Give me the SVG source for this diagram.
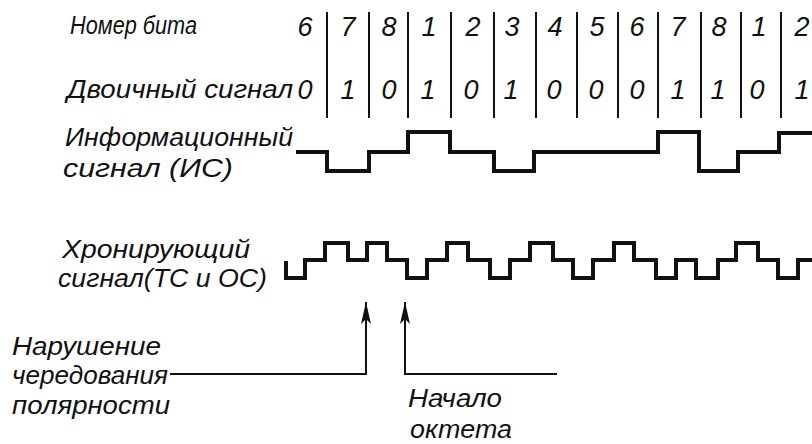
<svg xmlns="http://www.w3.org/2000/svg" width="812" height="444" viewBox="0 0 812 444">
<style>
text{font-family:"Liberation Sans","DejaVu Sans",sans-serif;font-style:italic;fill:#111}
.lbl{font-size:26px}
.dg{font-size:27px;text-anchor:middle}
.bar{stroke:#111;stroke-width:2;fill:none}
.wave{stroke:#111;stroke-width:4;fill:none;stroke-linejoin:miter;stroke-linecap:square}
.conn{stroke:#111;stroke-width:2;fill:none}
</style>
<defs>
<marker id="ah" viewBox="0 0 22 12" refX="22" refY="6" markerWidth="22" markerHeight="12" markerUnits="userSpaceOnUse" orient="auto">
<path d="M0,1 L22,6 L0,11 L5,6 Z" fill="#111"/>
</marker>
</defs>
<rect width="812" height="444" fill="#fff"/>
<g id="bit-numbers">
<text class="lbl" x="70" y="34" textLength="127" lengthAdjust="spacingAndGlyphs">Номер бита</text>
<text class="dg" x="305" y="36">6</text>
<text class="dg" x="348" y="36">7</text>
<text class="dg" x="389" y="36">8</text>
<text class="dg" x="429" y="36">1</text>
<text class="dg" x="473" y="36">2</text>
<text class="dg" x="512" y="36">3</text>
<text class="dg" x="555" y="36">4</text>
<text class="dg" x="597" y="36">5</text>
<text class="dg" x="637" y="36">6</text>
<text class="dg" x="678" y="36">7</text>
<text class="dg" x="719" y="36">8</text>
<text class="dg" x="759" y="36">1</text>
<text class="dg" x="802" y="36">2</text>
</g>
<g id="binary-signal">
<text class="lbl" x="67" y="98" textLength="226" lengthAdjust="spacingAndGlyphs">Двоичный сигнал</text>
<text class="dg" x="305" y="99">0</text>
<text class="dg" x="348" y="99">1</text>
<text class="dg" x="389" y="99">0</text>
<text class="dg" x="428" y="99">1</text>
<text class="dg" x="471" y="99">0</text>
<text class="dg" x="511" y="99">1</text>
<text class="dg" x="554" y="99">0</text>
<text class="dg" x="596" y="99">0</text>
<text class="dg" x="637" y="99">0</text>
<text class="dg" x="678" y="99">1</text>
<text class="dg" x="718" y="99">1</text>
<text class="dg" x="757" y="99">0</text>
<text class="dg" x="802" y="99">1</text>
</g>
<g id="bit-grid">
<path class="bar" d="M327,12V118M369,12V118M408,12V118M451,12V118M494,12V118M536,12V118M577,12V118M618,12V118M658,12V118M701,12V118M741,12V118M781,12V118"/>
</g>
<g id="info-signal">
<text class="lbl" x="65" y="146" textLength="228" lengthAdjust="spacingAndGlyphs">Информационный</text>
<text class="lbl" x="63" y="177" textLength="170" lengthAdjust="spacingAndGlyphs">сигнал (ИС)</text>
<path class="wave" d="M298,152H327V171H369V152H408V132H450V152H494V171H534V152H658V132H699V171H738V152H779V133H812"/>
</g>
<g id="timing-signal">
<text class="lbl" x="62" y="258" textLength="188" lengthAdjust="spacingAndGlyphs">Хронирующий</text>
<text class="lbl" x="58" y="287" textLength="209" lengthAdjust="spacingAndGlyphs">сигнал(ТС и ОС)</text>
<path class="wave" d="M286,263V278H305V260H325V243H348V260H367V243H387V260H407V278H427V260H447V243H468V260H490V278H510V260H530V243H553V260H573V278H593V260H614V243H634V260H656V278H676V260H696V278H718V260H736V243H758V260H778V278H798V260H812"/>
</g>
<g id="violation-label">
<text class="lbl" x="12" y="355" textLength="149" lengthAdjust="spacingAndGlyphs">Нарушение</text>
<text class="lbl" x="12" y="384" textLength="156" lengthAdjust="spacingAndGlyphs">чередования</text>
<text class="lbl" x="12" y="414" textLength="158" lengthAdjust="spacingAndGlyphs">полярности</text>
</g>
<g id="octet-label">
<text class="lbl" x="408" y="407" textLength="94" lengthAdjust="spacingAndGlyphs">Начало</text>
<text class="lbl" x="410" y="438" textLength="102" lengthAdjust="spacingAndGlyphs">октета</text>
</g>
<g id="connectors">
<path class="conn" d="M170,374H366V302" marker-end="url(#ah)"/>
<path class="conn" d="M557,374H405V302" marker-end="url(#ah)"/>
</g>
</svg>
